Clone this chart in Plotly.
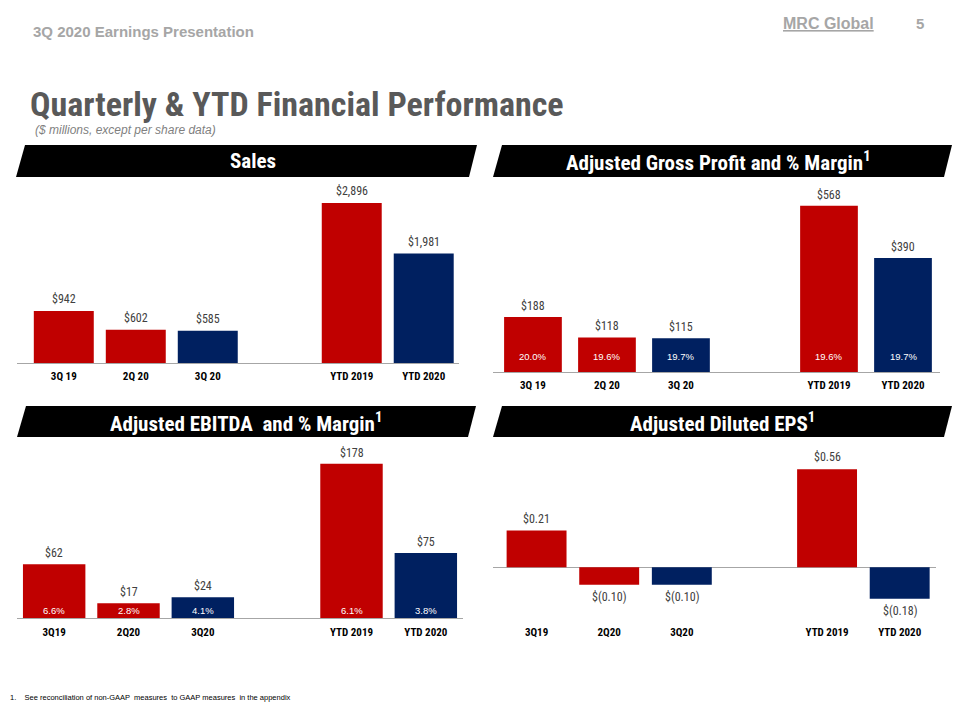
import plotly.graph_objects as go

# ---------------- data ----------------
cats_a = ["3Q 19", "2Q 20", "3Q 20", "YTD 2019", "YTD 2020"]
cats_b = ["3Q19", "2Q20", "3Q20", "YTD 2019", "YTD 2020"]
spacer = " "

sales = [942, 602, 585, 2896, 1981]
sales_labels = ["$942", "$602", "$585", "$2,896", "$1,981"]

gross = [188, 118, 115, 568, 390]
gross_labels = ["$188", "$118", "$115", "$568", "$390"]
gross_margin = ["20.0%", "19.6%", "19.7%", "19.6%", "19.7%"]

ebitda = [62, 17, 24, 178, 75]
ebitda_labels = ["$62", "$17", "$24", "$178", "$75"]
ebitda_margin = ["6.6%", "2.8%", "4.1%", "6.1%", "3.8%"]

eps = [0.21, -0.10, -0.10, 0.56, -0.18]
eps_labels = ["$0.21", "$(0.10)", "$(0.10)", "$0.56", "$(0.18)"]

RED = "#C00000"
NAVY = "#002060"
bar_colors = [RED, RED, NAVY, RED, NAVY]

NARROW = "Liberation Sans Narrow, Arial Narrow, Roboto Condensed, Liberation Sans, sans-serif"
REG = "Liberation Sans, Arial, sans-serif"
# page has an 8px body margin; the figure fills the rest of the 960x720 window
OFF = 8
W, H = 960 - 2 * OFF, 720 - 2 * OFF


def fx(px):
    return (px - OFF) / W


def fy(py):
    return 1 - (py - OFF) / H


panels = [
    dict(ax="", cats=cats_a, vals=sales, labels=sales_labels, margin=None,
         xpx=(17, 459), ypx=(185, 363), xr=(-0.65, 5.49), yr=(0, 3222), gap=0.167,
         shift=3, standoff=3, title="Sales", bx=(16, 477), by=(145, 177), tcx=253),
    dict(ax="2", cats=cats_a, vals=gross, labels=gross_labels, margin=gross_margin,
         xpx=(493, 940), ypx=(190, 372), xr=(-0.54, 5.5), yr=(0, 622), gap=0.22,
         shift=2, standoff=3, mshift=16, title="Adjusted Gross Profit and % Margin<sup>1</sup>",
         bx=(493, 952), by=(145, 177), tcx=718),
    dict(ax="3", cats=cats_b, vals=ebitda, labels=ebitda_labels, margin=ebitda_margin,
         xpx=(17, 463), ypx=(450, 618), xr=(-0.5, 5.5), yr=(0, 194), gap=0.16,
         shift=2, standoff=4, mshift=8, title="Adjusted EBITDA  and % Margin<sup>1</sup>",
         bx=(17, 476), by=(406, 437), tcx=246),
    dict(ax="4", cats=cats_b, vals=eps, labels=eps_labels, margin=None,
         xpx=(493, 936), ypx=(450, 622), xr=(-0.6, 5.5), yr=(-0.3126, 0.670), gap=0.175,
         shift=3, standoff=2, title="Adjusted Diluted EPS<sup>1</sup>",
         bx=(493, 952), by=(406, 437), tcx=722, eps=True),
]

fig = go.Figure()
annotations = []
shapes = []

for p in panels:
    a = p["ax"]
    xa = "x" + a
    ya = "y" + a
    fig.add_trace(go.Bar(
        x=p["cats"], y=p["vals"], width=1 - p["gap"],
        marker=dict(color=bar_colors, line=dict(width=0)),
        xaxis=xa, yaxis=ya, showlegend=False, hoverinfo="skip",
    ))
    catorder = p["cats"][:3] + [spacer] + p["cats"][3:]
    is_eps = p.get("eps", False)
    fig.layout["xaxis" + a] = dict(
        domain=[fx(p["xpx"][0]), fx(p["xpx"][1])], anchor=ya,
        type="category", categoryorder="array", categoryarray=catorder,
        tickmode="array", tickvals=p["cats"], ticktext=["<b>" + c + "</b>" for c in p["cats"]],
        range=list(p["xr"]), showgrid=False, zeroline=False,
        showline=not is_eps, linecolor="#A6A6A6", linewidth=1.3,
        ticks="", ticklabelstandoff=p["standoff"],
        tickfont=dict(family=NARROW, size=11, color="#000000"),
        fixedrange=True,
    )
    fig.layout["yaxis" + a] = dict(
        domain=[fy(p["ypx"][1]), fy(p["ypx"][0])], anchor=xa,
        range=list(p["yr"]), showgrid=False, showticklabels=False, ticks="",
        zeroline=is_eps, zerolinecolor="#A6A6A6", zerolinewidth=1.3,
        showline=False, fixedrange=True,
    )
    # value labels
    for c, v, t in zip(p["cats"], p["vals"], p["labels"]):
        neg = v < 0
        annotations.append(dict(
            x=c, y=v, xref=xa, yref=ya, text=t, showarrow=False,
            yanchor="top" if neg else "bottom", yshift=(-p["shift"] if neg else p["shift"]),
            font=dict(family=NARROW, size=12, color="#404040"),
        ))
    # margin labels inside bars
    if p["margin"]:
        for c, t in zip(p["cats"], p["margin"]):
            annotations.append(dict(
                x=c, y=0, xref=xa, yref=ya, text=t, showarrow=False,
                yanchor="middle", yshift=p["mshift"],
                font=dict(family=REG, size=9.5, color="#FFFFFF"),
            ))
    # banner
    x0, x1 = p["bx"]
    y0, y1 = p["by"]
    path = "M {},{} L {},{} L {},{} L {},{} Z".format(
        fx(x0), fy(y1), fx(x0 + 9), fy(y0), fx(x1), fy(y0), fx(x1 - 8), fy(y1))
    shapes.append(dict(type="path", xref="paper", yref="paper", path=path,
                       fillcolor="#000000", line=dict(width=0), layer="below"))
    annotations.append(dict(
        x=fx(p["tcx"]), y=fy((y0 + y1) / 2), xref="paper", yref="paper",
        text="<b>" + p["title"] + "</b>", showarrow=False, xanchor="center", yanchor="middle",
        font=dict(family=NARROW, size=21, color="#FFFFFF"),
    ))

# header / titles / footnote
annotations += [
    dict(x=fx(31), y=fy(32), xref="paper", yref="paper", showarrow=False,
         xanchor="left", yanchor="middle", text="<b>3Q 2020 Earnings Presentation</b>",
         font=dict(family=REG, size=15, color="#A6A6A6")),
    dict(x=fx(781), y=fy(24), xref="paper", yref="paper", showarrow=False,
         xanchor="left", yanchor="middle", text="<b><u>MRC Global</u></b>",
         font=dict(family=REG, size=16, color="#A6A6A6")),
    dict(x=fx(920), y=fy(24), xref="paper", yref="paper", showarrow=False,
         xanchor="center", yanchor="middle", text="<b>5</b>",
         font=dict(family=REG, size=15, color="#A6A6A6")),
    dict(x=fx(28), y=fy(104), xref="paper", yref="paper", showarrow=False,
         xanchor="left", yanchor="middle", text="<b>Quarterly & YTD Financial Performance</b>",
         font=dict(family=NARROW, size=34, color="#595959")),
    dict(x=fx(33), y=fy(130), xref="paper", yref="paper", showarrow=False,
         xanchor="left", yanchor="middle", text="<i>($ millions, except per share data)</i>",
         font=dict(family=REG, size=12, color="#7F7F7F")),
    dict(x=fx(8), y=fy(697), xref="paper", yref="paper", showarrow=False,
         xanchor="left", yanchor="middle",
         text="1.&nbsp;&nbsp;&nbsp;&nbsp;See reconciliation of non-GAAP  measures  to GAAP measures  in the appendix",
         font=dict(family=REG, size=7.5, color="#000000")),
]

fig.update_layout(
    width=W, height=H, margin=dict(l=0, r=0, t=0, b=0),
    paper_bgcolor="#FFFFFF", plot_bgcolor="rgba(0,0,0,0)",
    annotations=annotations, shapes=shapes, showlegend=False,
)

fig.write_html("out.html")
